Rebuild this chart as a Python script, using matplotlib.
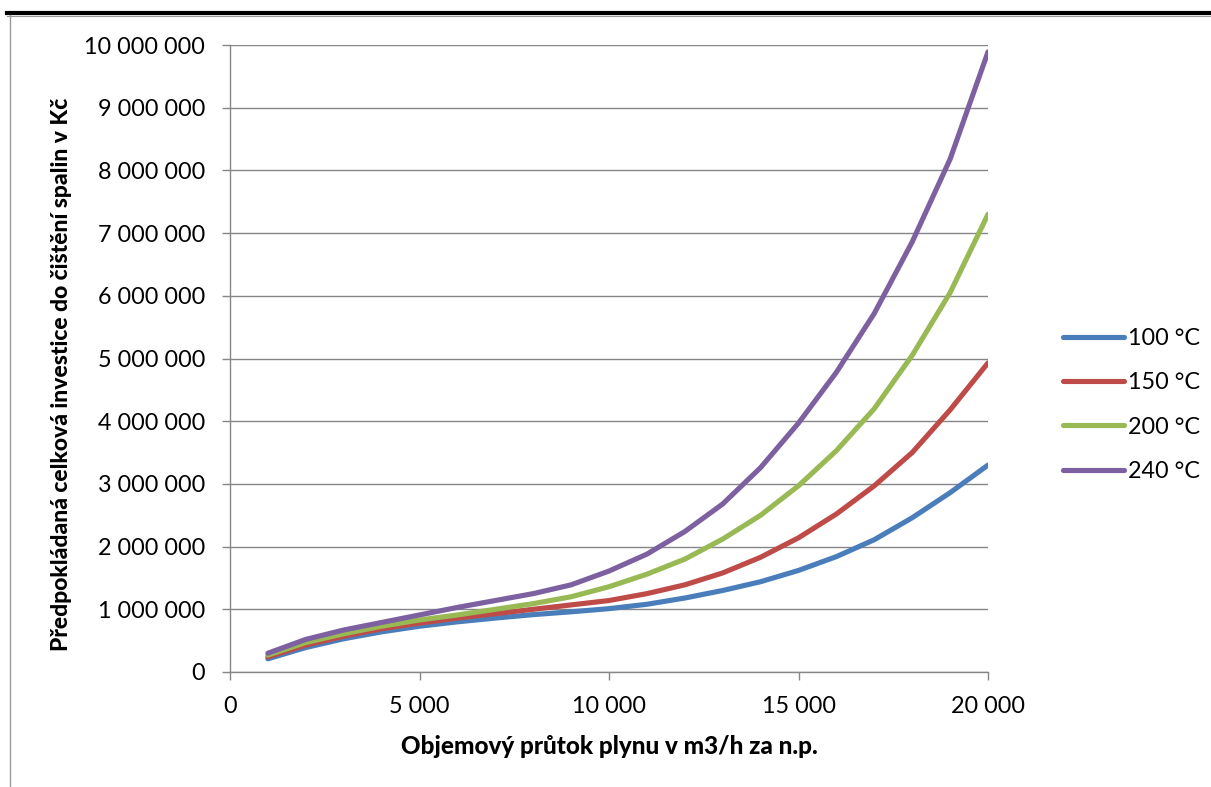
import numpy as np
import matplotlib
matplotlib.use("Agg")
import matplotlib.pyplot as plt
from matplotlib.lines import Line2D
from matplotlib.ticker import FuncFormatter

plt.rcParams['font.family'] = ['Lato', 'DejaVu Sans']

# objemovy prutok (m3/h za n.p.)
flow = [1000, 2000, 3000, 4000, 5000, 6000, 7000, 8000, 9000, 10000,
        11000, 12000, 13000, 14000, 15000, 16000, 17000, 18000, 19000, 20000]

# investice v milionech Kc
inv_100 = [0.21, 0.39, 0.53, 0.64, 0.73, 0.80, 0.86, 0.915, 0.96, 1.01,
           1.08, 1.18, 1.30, 1.44, 1.62, 1.84, 2.11, 2.46, 2.86, 3.30]
inv_150 = [0.24, 0.43, 0.57, 0.69, 0.78, 0.86, 0.93, 1.00, 1.07, 1.14,
           1.25, 1.39, 1.58, 1.83, 2.14, 2.52, 2.97, 3.50, 4.18, 4.93]
inv_200 = [0.27, 0.47, 0.61, 0.73, 0.83, 0.91, 1.00, 1.09, 1.20, 1.36,
           1.56, 1.80, 2.12, 2.50, 2.97, 3.53, 4.20, 5.05, 6.05, 7.30]
inv_240 = [0.30, 0.52, 0.67, 0.79, 0.91, 1.03, 1.14, 1.25, 1.39, 1.61,
           1.88, 2.24, 2.68, 3.26, 3.97, 4.78, 5.72, 6.86, 8.18, 9.89]

labels = ['100 °C', '150 °C', '200 °C', '240 °C']
colors = ['#4A7EBB', '#BE4B48', '#98B954', '#7D60A0']
series = [inv_100, inv_150, inv_200, inv_240]

fig = plt.figure(figsize=(12.11, 7.87), dpi=100)
ax = fig.add_axes([230/1211, 1-672/787, 758/1211, 627/787])

for vals, lab, c in zip(series, labels, colors):
    ax.plot(flow, np.array(vals)*1e6, color=c, lw=3.7, label=lab,
            solid_capstyle='round', solid_joinstyle='round')

ax.set_xlim(0, 20000)
ax.set_ylim(0, 10000000)
ax.set_xticks(np.arange(0, 20001, 5000))
ax.set_yticks(np.arange(0, 10000001, 1000000))
fmt = FuncFormatter(lambda v, p: f"{int(v):,}".replace(",", " "))
ax.xaxis.set_major_formatter(fmt)
ax.yaxis.set_major_formatter(fmt)

ax.grid(axis='y', color='#868686', lw=1.0)
ax.set_axisbelow(True)
for s in ['top', 'right']:
    ax.spines[s].set_visible(False)
for s in ['left', 'bottom']:
    ax.spines[s].set_color('#868686')
    ax.spines[s].set_linewidth(1.0)
ax.tick_params(axis='both', colors='#868686', length=6, width=1.0,
               labelcolor='black', labelsize=16.8)
ax.tick_params(axis='y', pad=12)
ax.tick_params(axis='x', pad=11)

ax.set_xlabel('Objemový průtok plynu v m3/h za n.p.', fontsize=17.5, fontweight='black')
ax.set_ylabel('Předpokládaná celková investice do čištění spalin v Kč', fontsize=16.5, fontweight='black')
ax.xaxis.set_label_coords(0.5, -0.1)
ax.yaxis.set_label_coords(-0.208, 0.475)

fig.legend(loc='center left', bbox_to_anchor=(1063/1211, 1-405/787),
           frameon=False, fontsize=16.8, handlelength=2.6, handletextpad=0.2,
           labelspacing=1.0, borderpad=0, borderaxespad=0)

# okraje ramecku
fig.add_artist(Line2D([7/1211, 1], [1-13/787, 1-13/787], color='black', lw=3))
fig.add_artist(Line2D([7/1211, 1], [1-16/787, 1-16/787], color='#9a9a9a', lw=0.8))
fig.add_artist(Line2D([10/1211, 10/1211], [0, 1-15/787], color='#9a9a9a', lw=1.0))

fig.savefig('out.png', dpi=100)
